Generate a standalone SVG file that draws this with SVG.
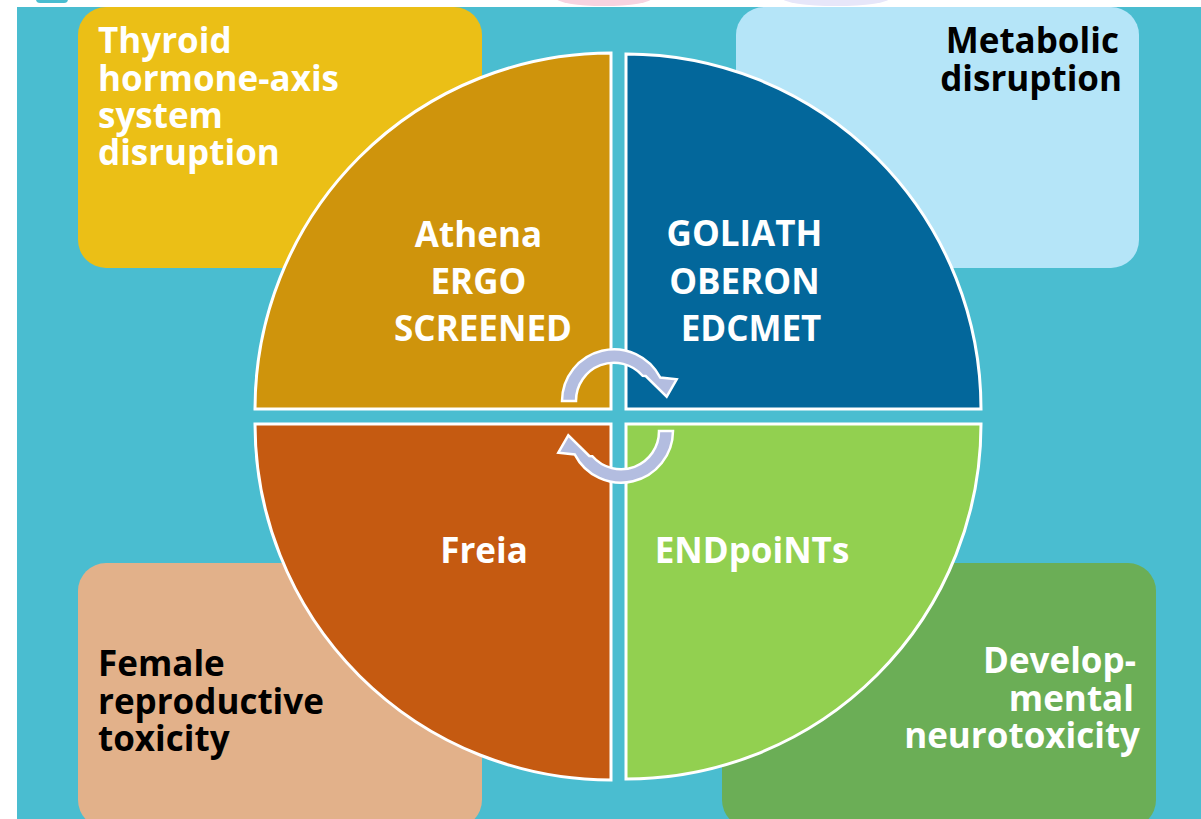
<svg xmlns="http://www.w3.org/2000/svg" width="1201" height="819" viewBox="0 0 1201 819">
  <defs>
    <style>
      .lbl { font-family: "Open Sans", "DejaVu Sans", sans-serif; font-weight: 700; font-size: 35px; }
      .w { fill: #ffffff; }
      .k { fill: #000000; }
      .mid { text-anchor: middle; }
      .end { text-anchor: end; }
      .quad { stroke: #ffffff; stroke-width: 3; }
      .cycle { fill: #B3BDE0; stroke: #ffffff; stroke-width: 2.5; stroke-linejoin: miter; }
    </style>
  </defs>

  <!-- page -->
  <rect x="0" y="0" width="1201" height="819" fill="#ffffff"/>
  <rect x="36" y="-6" width="32" height="9" rx="4" fill="#4ABDD0"/>
  <ellipse cx="604" cy="-2" rx="48" ry="8" fill="#F7D3E0"/>
  <ellipse cx="836" cy="-2" rx="54" ry="8" fill="#E7E6F9"/>
  <rect x="17" y="7" width="1184" height="812" fill="#4ABDD0"/>

  <!-- outcome boxes -->
  <g id="box-thyroid">
    <rect x="78" y="7" width="404" height="261" rx="28" fill="#EBBF16"/>
    <text class="lbl w">
      <tspan x="98" y="53">Thyroid</tspan>
      <tspan x="98" y="91">hormone-axis</tspan>
      <tspan x="98" y="128">system</tspan>
      <tspan x="98" y="165">disruption</tspan>
    </text>
  </g>
  <g id="box-metabolic">
    <rect x="736" y="7" width="403" height="261" rx="28" fill="#B5E5F8"/>
    <text class="lbl k end">
      <tspan x="1128" y="53">Metabolic</tspan>
      <tspan x="1122" y="91">disruption</tspan>
    </text>
  </g>
  <g id="box-female">
    <rect x="78" y="563" width="404" height="265" rx="28" fill="#E2B18A"/>
    <text class="lbl k">
      <tspan x="98" y="676">Female</tspan>
      <tspan x="98" y="714">reproductive</tspan>
      <tspan x="98" y="751">toxicity</tspan>
    </text>
  </g>
  <g id="box-neuro">
    <rect x="722" y="563" width="434" height="265" rx="28" fill="#6BAE56"/>
    <text class="lbl w end">
      <tspan x="1145" y="673">Develop-</tspan>
      <tspan x="1143" y="711">mental</tspan>
      <tspan x="1140" y="748">neurotoxicity</tspan>
    </text>
  </g>

  <!-- project quadrants -->
  <g id="quad-athena">
    <path class="quad" d="M611,409 L255,409 A356,356 0 0 1 611,53 Z" fill="#CF940C"/>
    <text class="lbl w mid">
      <tspan x="483" y="247">Athena</tspan>
      <tspan x="483" y="294">ERGO</tspan>
      <tspan x="483" y="341">SCREENED</tspan>
    </text>
  </g>
  <g id="quad-goliath">
    <path class="quad" d="M626,409 L626,54 A355,355 0 0 1 981,409 Z" fill="#03679B"/>
    <text class="lbl w mid">
      <tspan x="749" y="246">GOLIATH</tspan>
      <tspan x="749" y="294">OBERON</tspan>
      <tspan x="751" y="341">EDCMET</tspan>
    </text>
  </g>
  <g id="quad-freia">
    <path class="quad" d="M611,424 L611,780 A356,356 0 0 1 255,424 Z" fill="#C55A11"/>
    <text class="lbl w mid" x="484" y="563">Freia</text>
  </g>
  <g id="quad-endpoints">
    <path class="quad" d="M626,424 L981,424 A355,355 0 0 1 626,779 Z" fill="#92D050"/>
    <text class="lbl w mid" x="752" y="563">ENDpoiNTs</text>
  </g>

  <!-- cycle arrows -->
  <g id="connectors">
    <path id="cycle-top" class="cycle" d="M562,401 A52,52 0 0 1 660.3,377.6 L676.7,379.3 L666.7,396.7 L645.7,376 L642.6,375.7 A38,38 0 0 0 576,401 Z"/>
    <path id="cycle-bottom" class="cycle" transform="rotate(180 617.5 416)" d="M562,401 A52,52 0 0 1 660.3,377.6 L676.7,379.3 L666.7,396.7 L645.7,376 L642.6,375.7 A38,38 0 0 0 576,401 Z"/>
  </g>
</svg>
